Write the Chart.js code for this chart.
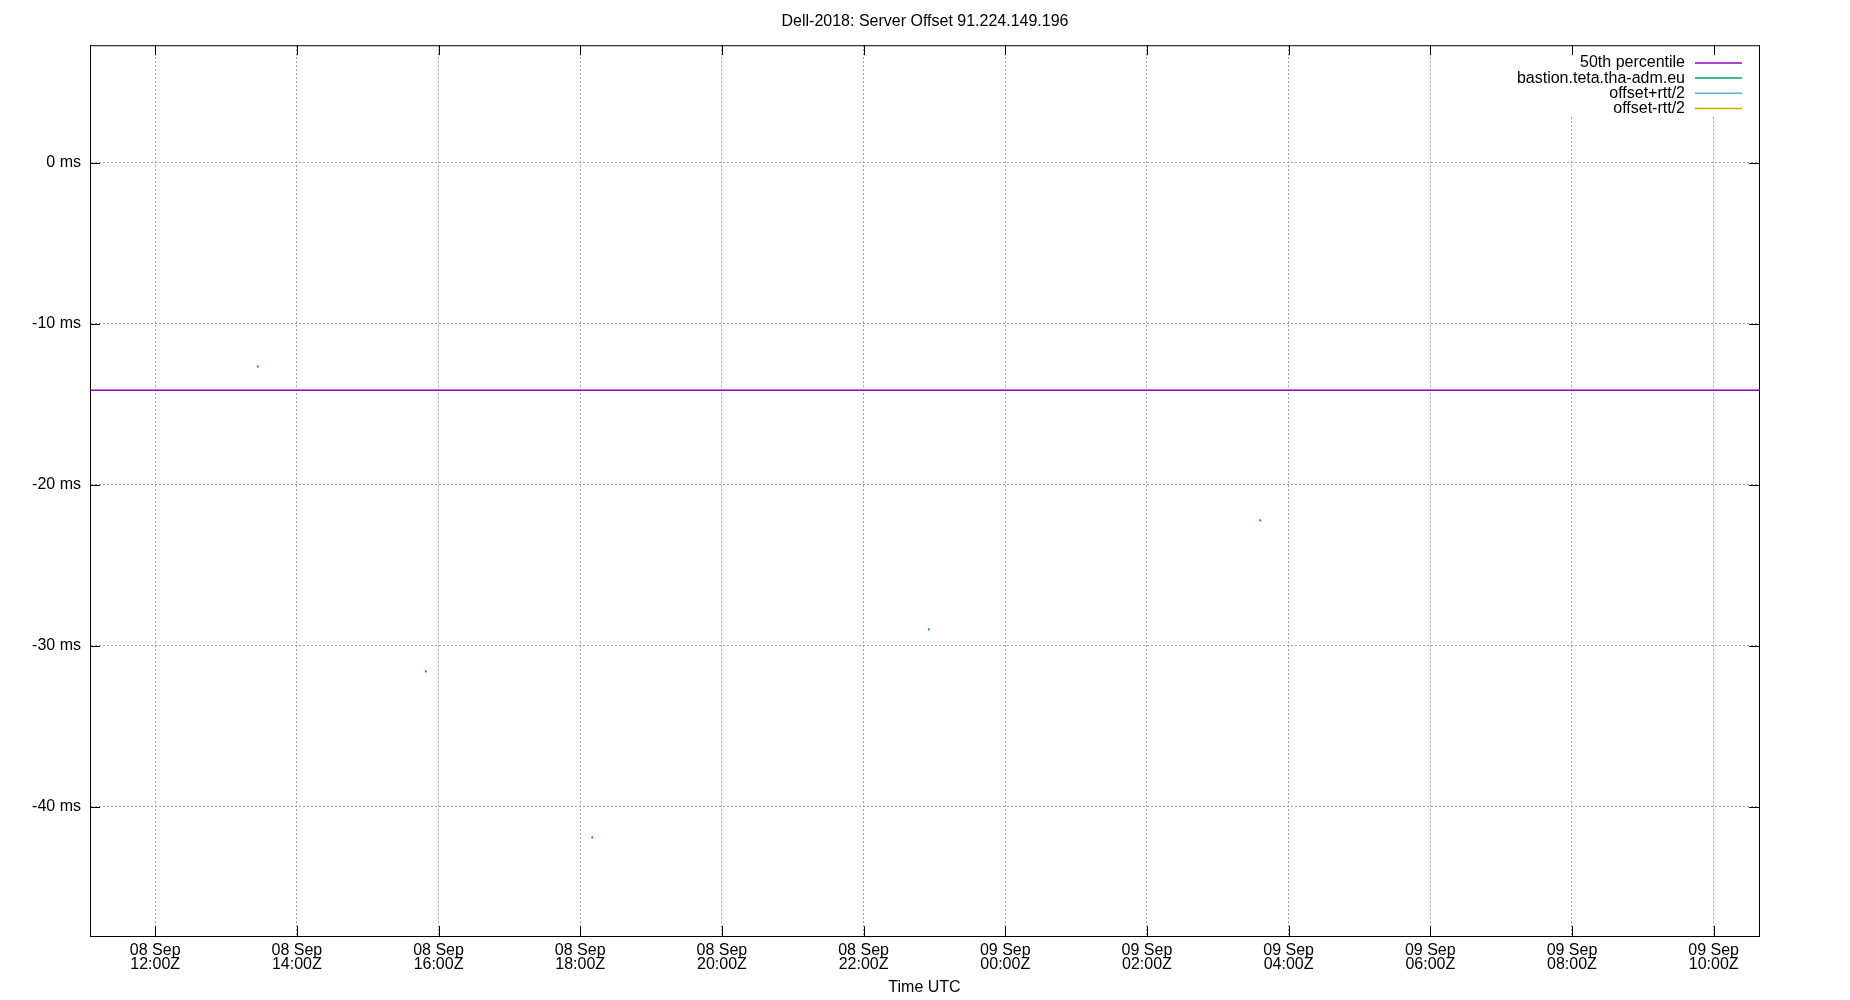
<!DOCTYPE html>
<html>
<head>
<meta charset="utf-8">
<title>Dell-2018: Server Offset 91.224.149.196</title>
<script src="https://cdn.jsdelivr.net/npm/chart.js@4.4.1/dist/chart.umd.min.js"></script>
<style>
  body { margin: 0; background: #fff; }
  #wrap { width: 1850px; height: 1000px; }
</style>
</head>
<body>
<div id="wrap"><canvas id="offsetChart" width="1850" height="1000"></canvas></div>
<script>
// hours counted from 08 Sep 00:00 UTC
const xMin = 11.08;
const xMax = 34.64;
const tickHours = [12, 14, 16, 18, 20, 22, 24, 26, 28, 30, 32, 34];
const tickLabels = [
    ['08 Sep', '12:00Z'], ['08 Sep', '14:00Z'], ['08 Sep', '16:00Z'],
    ['08 Sep', '18:00Z'], ['08 Sep', '20:00Z'], ['08 Sep', '22:00Z'],
    ['09 Sep', '00:00Z'], ['09 Sep', '02:00Z'], ['09 Sep', '04:00Z'],
    ['09 Sep', '06:00Z'], ['09 Sep', '08:00Z'], ['09 Sep', '10:00Z']
];
const yMin = -48.03;
const yMax = 7.31;
const yTicks = [0, -10, -20, -30, -40];

// samples from bastion.teta.tha-adm.eu
const sampleHours = [13.45, 15.82, 18.17, 22.92, 27.60];
const offsetMs = [-12.65, -31.59, -41.90, -28.98, -22.21];
const offsetPlusMs = [-12.62, -31.56, -41.87, -28.95, -22.18];
const offsetMinusMs = [-12.68, -31.62, -41.93, -29.01, -22.24];
const medianMs = -14.12;

const FONT = '"Liberation Sans", Arial, sans-serif';
const toPoints = (xs, ys) => xs.map((x, i) => ({ x: x, y: ys[i] }));

// legend drawn gnuplot style: text right aligned, line sample on its right
const gnuLegend = {
    id: 'gnuLegend',
    beforeDatasetsDraw(chart) {
        const { ctx, chartArea } = chart;
        ctx.save();
        ctx.fillStyle = '#fff';
        ctx.fillRect(chartArea.right - 255, chartArea.top + 1, 245, 70);
        ctx.restore();
    },
    afterDraw(chart) {
        const { ctx, chartArea } = chart;
        ctx.save();
        ctx.font = '16px ' + FONT;
        ctx.textAlign = 'right';
        ctx.textBaseline = 'middle';
        chart.data.datasets.forEach((ds, i) => {
            const y = chartArea.top + 17.7 + i * 15.2;
            ctx.fillStyle = '#000';
            ctx.fillText(ds.label, chartArea.right - 74, y);
            ctx.strokeStyle = ds.borderColor;
            ctx.lineWidth = 1.5;
            ctx.beginPath();
            ctx.moveTo(chartArea.right - 64, y);
            ctx.lineTo(chartArea.right - 17, y);
            ctx.stroke();
        });
        ctx.restore();
    }
};

// black frame with ticks pointing inwards on all four sides
const frameTicks = {
    id: 'frameTicks',
    afterDraw(chart) {
        const { ctx, chartArea: a, scales } = chart;
        ctx.save();
        ctx.strokeStyle = '#000';
        ctx.lineWidth = 1;
        ctx.strokeRect(a.left + 0.5, a.top + 0.5, a.right - a.left, a.bottom - a.top);
        ctx.beginPath();
        scales.x.ticks.forEach(t => {
            const x = Math.round(scales.x.getPixelForValue(t.value)) + 0.5;
            ctx.moveTo(x, a.bottom); ctx.lineTo(x, a.bottom - 10);
            ctx.moveTo(x, a.top); ctx.lineTo(x, a.top + 10);
        });
        scales.y.ticks.forEach(t => {
            const y = Math.round(scales.y.getPixelForValue(t.value)) + 0.5;
            ctx.moveTo(a.left, y); ctx.lineTo(a.left + 10, y);
            ctx.moveTo(a.right, y); ctx.lineTo(a.right - 10, y);
        });
        ctx.stroke();
        ctx.restore();
    }
};

const config = {
    type: 'scatter',
    data: {
        datasets: [{
            label: '50th percentile',
            data: [{ x: xMin, y: medianMs }, { x: xMax, y: medianMs }],
            showLine: true,
            borderColor: '#9400d3',
            borderWidth: 1.5,
            pointRadius: 0
        }, {
            label: 'bastion.teta.tha-adm.eu',
            data: toPoints(sampleHours, offsetMs),
            borderColor: '#009e73',
            backgroundColor: '#009e73',
            pointStyle: 'rect',
            pointRadius: 1.2,
            borderWidth: 0,
            order: -1
        }, {
            label: 'offset+rtt/2',
            data: toPoints(sampleHours, offsetPlusMs),
            borderColor: '#56b4e9',
            backgroundColor: '#56b4e9',
            pointStyle: 'rect',
            pointRadius: 1,
            borderWidth: 0
        }, {
            label: 'offset-rtt/2',
            data: toPoints(sampleHours, offsetMinusMs),
            borderColor: '#e69f00',
            backgroundColor: '#e69f00',
            pointStyle: 'rect',
            pointRadius: 1,
            borderWidth: 0
        }]
    },
    options: {
        responsive: false,
        animation: false,
        devicePixelRatio: 1,
        layout: { padding: 0 },
        plugins: {
            legend: { display: false },
            tooltip: { enabled: false },
            title: {
                display: true,
                text: 'Dell-2018: Server Offset 91.224.149.196',
                color: '#000',
                font: { family: FONT, size: 16, weight: 'normal', lineHeight: 1.2 },
                padding: { top: 12, bottom: 14 }
            }
        },
        scales: {
            x: {
                type: 'linear',
                min: xMin,
                max: xMax,
                afterBuildTicks: s => { s.ticks = tickHours.map(v => ({ value: v })); },
                afterFit: s => { s.height = 64; },
                ticks: {
                    callback: (v, i) => tickLabels[i],
                    color: '#000',
                    font: { family: FONT, size: 16, lineHeight: 0.92 },
                    padding: 7,
                    maxRotation: 0,
                    autoSkip: false
                },
                grid: { color: '#a0a0a0', drawTicks: false },
                border: { display: true, color: '#000', dash: [2, 2] },
                title: {
                    display: true,
                    text: 'Time UTC',
                    color: '#000',
                    font: { family: FONT, size: 16, lineHeight: 1.2 },
                    padding: { top: 2, bottom: 3 }
                }
            },
            y: {
                type: 'linear',
                min: yMin,
                max: yMax,
                afterBuildTicks: s => { s.ticks = yTicks.map(v => ({ value: v })); },
                afterFit: s => { s.width = 90; },
                ticks: {
                    callback: v => v + ' ms',
                    color: '#000',
                    font: { family: FONT, size: 16 },
                    padding: 9
                },
                grid: { color: '#a0a0a0', drawTicks: false },
                border: { display: true, color: '#000', dash: [2, 2] }
            },
            y2: {
                position: 'right',
                display: true,
                afterFit: s => { s.width = 91; },
                ticks: { display: false },
                grid: { display: false, drawOnChartArea: false },
                border: { display: false }
            }
        }
    },
    plugins: [gnuLegend, frameTicks]
};

const offsetChart = new Chart(document.getElementById('offsetChart'), config);
</script>
</body>
</html>
